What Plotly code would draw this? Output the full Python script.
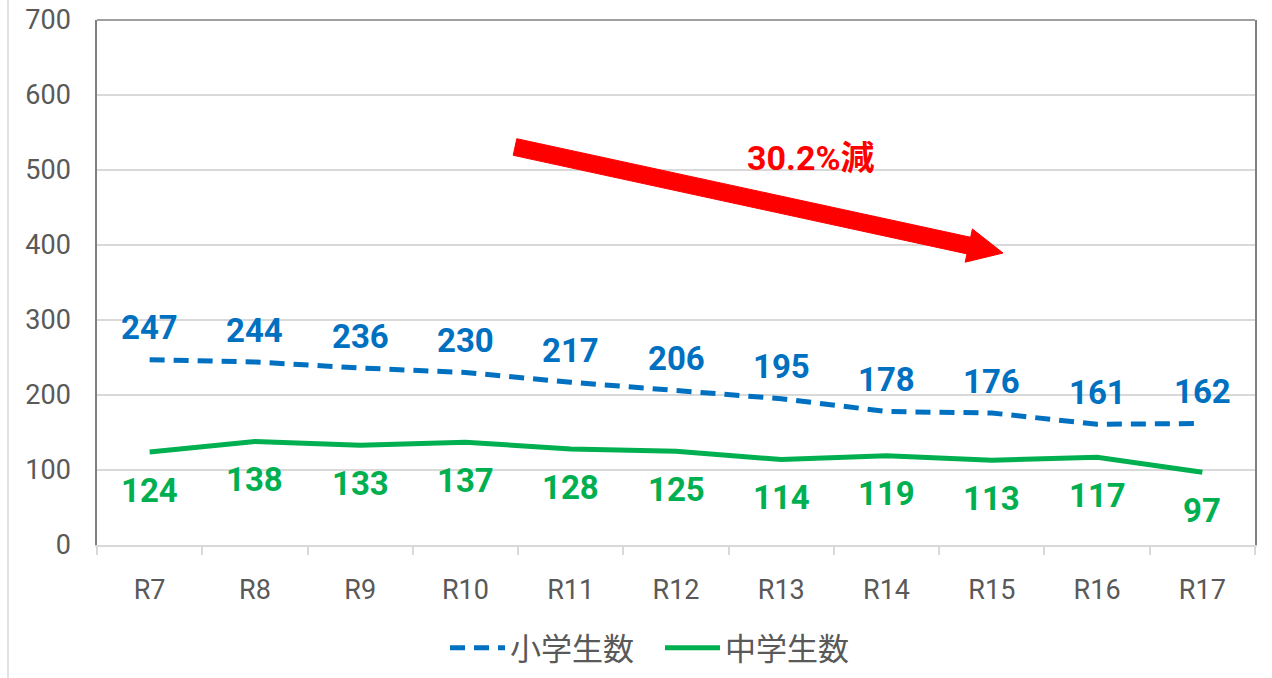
import plotly.graph_objects as go
import math

years = ["R7", "R8", "R9", "R10", "R11", "R12", "R13", "R14", "R15", "R16", "R17"]
elementary = [247, 244, 236, 230, 217, 206, 195, 178, 176, 161, 162]
junior = [124, 138, 133, 137, 128, 125, 114, 119, 113, 117, 97]
y_ticks = [0, 100, 200, 300, 400, 500, 600, 700]

BLUE = "#0070C0"
GREEN = "#00B050"
GRAY_TXT = "#595959"

W, H = 1272, 678
L, R, T, B = 97, 17, 20, 133
PW, PH = W - L - R, H - T - B


def px(x):
    return (x - L) / PW


def py(y):
    return (H - B - y) / PH


fig = go.Figure()
fig.add_trace(go.Scatter(
    x=years, y=elementary, name="小学生数", mode="lines",
    line=dict(color=BLUE, width=5, dash="15px,9px"),
))
fig.add_trace(go.Scatter(
    x=years, y=junior, name="中学生数", mode="lines",
    line=dict(color=GREEN, width=5),
))

label_font = "Roboto, Arial, sans-serif"
for yr, v in zip(years, elementary):
    fig.add_annotation(x=yr, y=v, text=str(v), showarrow=False, yshift=32,
                       yanchor="middle", font=dict(family=label_font, size=33, color=BLUE, weight="bold"))
for yr, v in zip(years, junior):
    fig.add_annotation(x=yr, y=v, text=str(v), showarrow=False, yshift=-38,
                       yanchor="middle", font=dict(family=label_font, size=33, color=GREEN, weight="bold"))

# red arrow (decorative)
tx, ty = 515, 147
hx, hy = 1003, 253
dx, dy = hx - tx, hy - ty
ln = math.hypot(dx, dy)
ux, uy = dx / ln, dy / ln
nx, ny = -uy, ux
hl, hw, sw = 35, 17, 8.5
bx, by = hx - hl * ux, hy - hl * uy
pts = [
    (tx + sw * nx, ty + sw * ny),
    (bx + sw * nx, by + sw * ny),
    (bx + hw * nx, by + hw * ny),
    (hx, hy),
    (bx - hw * nx, by - hw * ny),
    (bx - sw * nx, by - sw * ny),
    (tx - sw * nx, ty - sw * ny),
]
path = "M " + " L ".join(f"{px(a):.5f},{py(b):.5f}" for a, b in pts) + " Z"
fig.add_shape(type="path", path=path, xref="paper", yref="paper",
              fillcolor="#FF0000", line=dict(color="#FF0000", width=1))

fig.add_annotation(x=px(811), y=py(158), xref="paper", yref="paper", text="30.2%減",
                   xanchor="center", yanchor="middle",
                   showarrow=False, font=dict(family="Roboto, Noto Sans CJK JP", size=34,
                                              color="#FF0000", weight="bold"))

# plot area border (top)
fig.add_shape(type="line", xref="paper", yref="paper", x0=0, x1=1, y0=1, y1=1,
              line=dict(color="#808080", width=1.5))
# outer frame line on left
fig.add_shape(type="line", xref="paper", yref="paper", x0=px(8), x1=px(8), y0=py(678), y1=py(0),
              line=dict(color="#D9D9D9", width=1.5))

fig.update_layout(
    width=W, height=H,
    margin=dict(l=L, r=R, t=T, b=B, autoexpand=False),
    paper_bgcolor="white", plot_bgcolor="white",
    showlegend=True,
    legend=dict(orientation="h", xref="container", yref="container",
                x=660 / W, xanchor="center", y=1 - 648 / H, yanchor="middle",
                font=dict(family="Noto Sans CJK JP", size=31, color=GRAY_TXT),
                itemwidth=55, entrywidth=145, bgcolor="rgba(0,0,0,0)"),
    font=dict(family="Roboto, Arial, sans-serif", color=GRAY_TXT),
)
fig.update_xaxes(
    type="category", showgrid=False, showline=True, linecolor="#D9D9D9", linewidth=1.5,
    ticks="outside", tickson="boundaries", ticklen=8, tickcolor="#D9D9D9", tickwidth=1.5,
    tickfont=dict(size=27, color=GRAY_TXT, family="Roboto, Arial"), ticklabelstandoff=20,
    range=[-0.5, len(years) - 0.5], automargin=False,
)
fig.update_yaxes(
    range=[0, 700], tickvals=y_ticks, showgrid=True, gridcolor="#D9D9D9", gridwidth=1.5,
    showline=True, linecolor="#808080", linewidth=1.5, mirror=True, zeroline=False,
    tickfont=dict(size=27, color=GRAY_TXT, family="Roboto, Arial"), ticks="", ticklabelstandoff=19,
    automargin=False,
)

fig.write_html("out.html", config={"displayModeBar": False},
               post_script="document.body.style.margin='0';")
